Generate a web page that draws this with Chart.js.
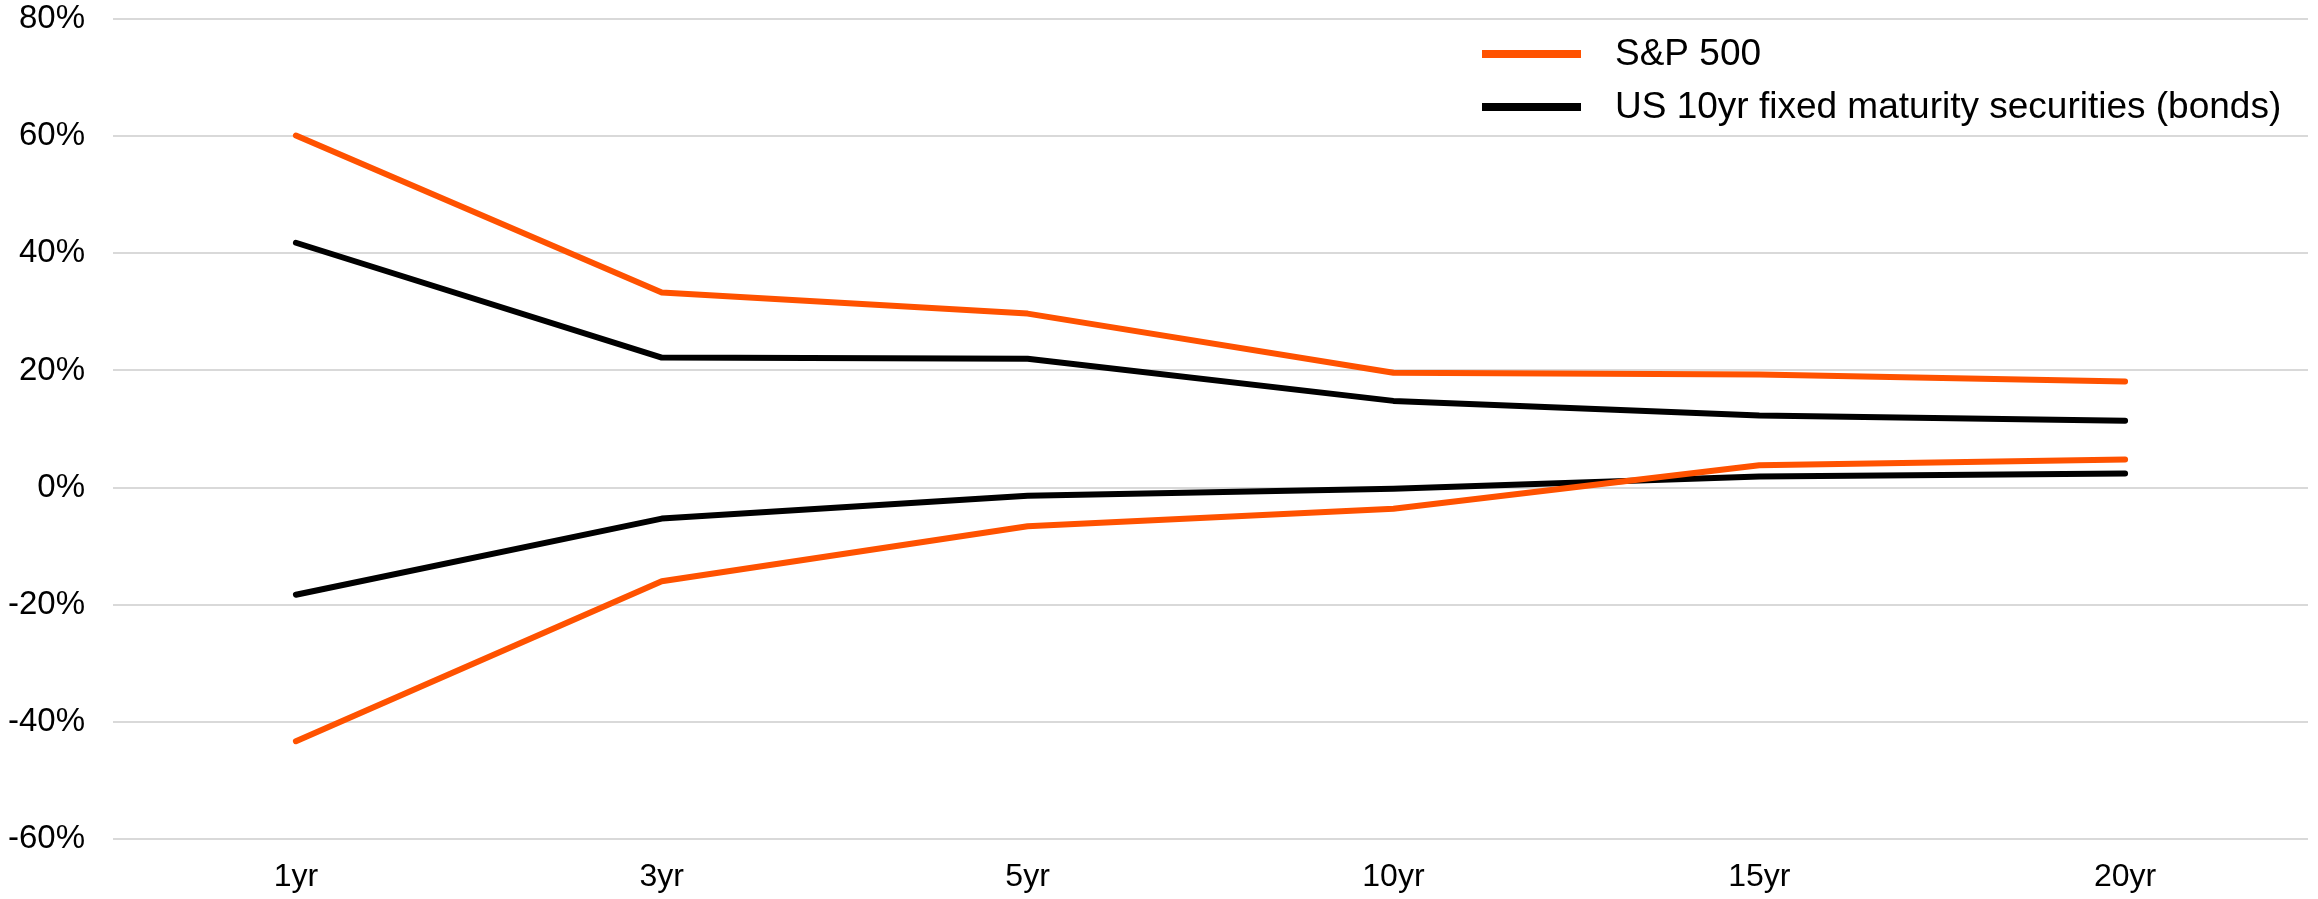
<!DOCTYPE html>
<html>
<head>
<meta charset="utf-8">
<script src="https://cdn.jsdelivr.net/npm/chart.js@4/dist/chart.umd.min.js"></script>
<style>
  html, body { margin: 0; padding: 0; background: #fff; }
  #wrap { width: 2318px; height: 899px; }
</style>
</head>
<body>
<div id="wrap"><canvas id="myChart" width="2318" height="899"></canvas></div>
<script>
// horizons
var periods = ['1yr', '3yr', '5yr', '10yr', '15yr', '20yr'];
// best / worst rolling returns, in %
var spBest = [60.1, 33.3, 29.7, 19.6, 19.3, 18.1];
var spWorst = [-43.3, -16.0, -6.6, -3.6, 3.8, 4.8];
var bondBest = [41.8, 22.2, 22.0, 14.8, 12.3, 11.4];
var bondWorst = [-18.3, -5.3, -1.4, -0.2, 1.9, 2.4];
var yTicks = [-60, -40, -20, 0, 20, 40, 60, 80];

var orange = '#ff5200';
var black = '#000000';

// legend drawn inside the plot area, top right
var legendPlugin = {
    id: 'insideLegend',
    afterDraw: function(chart) {
        var ctx = chart.ctx;
        var items = [
            { text: 'S&P 500', color: orange, y: 54 },
            { text: 'US 10yr fixed maturity securities (bonds)', color: black, y: 107 }
        ];
        ctx.save();
        ctx.font = '37px "Liberation Sans", Arial, sans-serif';
        ctx.textBaseline = 'middle';
        ctx.fillStyle = '#000';
        items.forEach(function(it) {
            ctx.strokeStyle = it.color;
            ctx.lineWidth = 8;
            ctx.beginPath();
            ctx.moveTo(1482, it.y);
            ctx.lineTo(1581, it.y);
            ctx.stroke();
            ctx.fillText(it.text, 1615, it.y + 1);
        });
        ctx.restore();
    }
};

function lineSet(label, data, color) {
    return {
        label: label,
        data: data,
        borderColor: color,
        backgroundColor: color,
        borderWidth: 6,
        borderCapStyle: 'round',
        borderJoinStyle: 'round',
        pointRadius: 0,
        pointHoverRadius: 0,
        fill: false,
        tension: 0
    };
}

var ctx = document.getElementById('myChart').getContext('2d');
var myChart = new Chart(ctx, {
    type: 'line',
    data: {
        labels: periods,
        datasets: [
            lineSet('S&P 500', spBest, orange),
            lineSet('US 10yr fixed maturity securities (bonds)', bondBest, black),
            lineSet('S&P 500 worst', spWorst, orange),
            lineSet('US 10yr bonds worst', bondWorst, black)
        ]
    },
    options: {
        responsive: false,
        animation: false,
        devicePixelRatio: 1,
        layout: { padding: { top: 19, right: 10, bottom: 0, left: 0 } },
        plugins: {
            legend: { display: false },
            tooltip: { enabled: false }
        },
        scales: {
            x: {
                offset: true,
                grid: { display: false, drawTicks: false },
                border: { display: false },
                afterFit: function(scale) {
                    scale.height = 60;
                    scale.paddingTop = 0;
                    scale.paddingBottom = 0;
                },
                ticks: {
                    color: '#000',
                    padding: 19,
                    maxRotation: 0,
                    font: { family: '"Liberation Sans", Arial, sans-serif', size: 32 }
                }
            },
            y: {
                min: yTicks[0],
                max: yTicks[yTicks.length - 1],
                afterBuildTicks: function(scale) {
                    scale.ticks = yTicks.map(function(v) { return { value: v }; });
                },
                afterFit: function(scale) {
                    scale.width = 113;
                    scale.paddingTop = 0;
                    scale.paddingBottom = 0;
                },
                grid: { color: '#d9d9d9', lineWidth: 2, drawTicks: false },
                border: { display: false },
                ticks: {
                    color: '#000',
                    padding: 28,
                    font: { family: '"Liberation Sans", Arial, sans-serif', size: 33 },
                    callback: function(v) { return v + '%'; }
                }
            }
        }
    },
    plugins: [legendPlugin]
});
</script>
</body>
</html>
